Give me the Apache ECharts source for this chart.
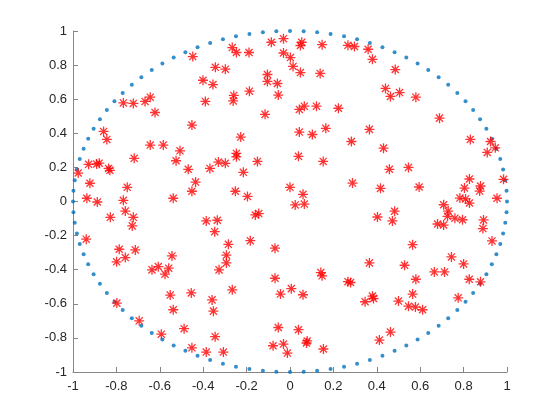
<!DOCTYPE html>
<html>
<head>
<meta charset="utf-8">
<script src="https://cdn.jsdelivr.net/npm/echarts@6/dist/echarts.min.js"></script>
<style>
  html, body { margin: 0; padding: 0; background: #fff; }
  #chart { width: 560px; height: 420px; }
</style>
</head>
<body>
<div id="chart"></div>
<script>
// unit circle markers (100 points, 3.6 degree steps)
const circlePoints = [
  [1, 0], [0.998, 0.063], [0.992, 0.125], [0.982, 0.187], [0.969, 0.249], [0.951, 0.309],
  [0.930, 0.368], [0.905, 0.426], [0.876, 0.482], [0.844, 0.536], [0.809, 0.588], [0.771, 0.637],
  [0.729, 0.685], [0.685, 0.729], [0.637, 0.771], [0.588, 0.809], [0.536, 0.844], [0.482, 0.876],
  [0.426, 0.905], [0.368, 0.930], [0.309, 0.951], [0.249, 0.969], [0.187, 0.982], [0.125, 0.992],
  [0.063, 0.998], [0, 1],
  [-0.063, 0.998], [-0.125, 0.992], [-0.187, 0.982], [-0.249, 0.969], [-0.309, 0.951], [-0.368, 0.930],
  [-0.426, 0.905], [-0.482, 0.876], [-0.536, 0.844], [-0.588, 0.809], [-0.637, 0.771], [-0.685, 0.729],
  [-0.729, 0.685], [-0.771, 0.637], [-0.809, 0.588], [-0.844, 0.536], [-0.876, 0.482], [-0.905, 0.426],
  [-0.930, 0.368], [-0.951, 0.309], [-0.969, 0.249], [-0.982, 0.187], [-0.992, 0.125], [-0.998, 0.063],
  [-1, 0],
  [-0.998, -0.063], [-0.992, -0.125], [-0.982, -0.187], [-0.969, -0.249], [-0.951, -0.309], [-0.930, -0.368],
  [-0.905, -0.426], [-0.876, -0.482], [-0.844, -0.536], [-0.809, -0.588], [-0.771, -0.637], [-0.729, -0.685],
  [-0.685, -0.729], [-0.637, -0.771], [-0.588, -0.809], [-0.536, -0.844], [-0.482, -0.876], [-0.426, -0.905],
  [-0.368, -0.930], [-0.309, -0.951], [-0.249, -0.969], [-0.187, -0.982], [-0.125, -0.992], [-0.063, -0.998],
  [0, -1],
  [0.063, -0.998], [0.125, -0.992], [0.187, -0.982], [0.249, -0.969], [0.309, -0.951], [0.368, -0.930],
  [0.426, -0.905], [0.482, -0.876], [0.536, -0.844], [0.588, -0.809], [0.637, -0.771], [0.685, -0.729],
  [0.729, -0.685], [0.771, -0.637], [0.809, -0.588], [0.844, -0.536], [0.876, -0.482], [0.905, -0.426],
  [0.930, -0.368], [0.951, -0.309], [0.969, -0.249], [0.982, -0.187], [0.992, -0.125], [0.998, -0.063]
]

// random points inside the circle
const starPoints = [
  [-0.448, 0.850], [-0.344, 0.787], [-0.401, 0.711], [-0.355, 0.686], [-0.768, 0.578], [-0.722, 0.575],
  [-0.668, 0.587], [-0.644, 0.612], [-0.622, 0.522], [-0.390, 0.587], [-0.452, 0.448], [-0.859, 0.411],
  [-0.844, 0.364],
  [-0.266, 0.903], [-0.247, 0.874], [-0.189, 0.874], [-0.086, 0.934], [-0.030, 0.955], [0.054, 0.934],
  [0.048, 0.915], [0.148, 0.920], [0.267, 0.916], [0.297, 0.909], [-0.030, 0.871], [0.002, 0.844],
  [0.014, 0.792], [0.048, 0.756], [0.139, 0.751], [-0.298, 0.776], [-0.104, 0.745], [-0.104, 0.704],
  [-0.058, 0.692], [-0.187, 0.647], [-0.259, 0.622], [-0.262, 0.590], [-0.054, 0.624], [0.043, 0.540],
  [0.066, 0.559], [0.122, 0.559], [0.223, 0.547], [-0.115, 0.511], [-0.227, 0.378], [0.043, 0.407],
  [0.103, 0.393], [0.165, 0.429], [0.283, 0.352],
  [0.360, 0.893], [0.380, 0.834], [0.485, 0.774], [0.440, 0.663], [0.463, 0.616], [0.505, 0.639],
  [0.580, 0.612], [0.689, 0.489], [0.366, 0.423], [0.831, 0.364], [0.924, 0.352],
  [-0.644, 0.331], [-0.584, 0.331], [-0.507, 0.297], [-0.718, 0.253], [-0.525, 0.239], [-0.928, 0.218],
  [-0.891, 0.220], [-0.879, 0.225], [-0.836, 0.194], [-0.830, 0.183], [-0.976, 0.167], [-0.469, 0.189],
  [-0.369, 0.194], [-0.922, 0.107], [-0.750, 0.083], [-0.435, 0.114], [-0.452, 0.060], [-0.936, 0.019],
  [-0.888, -0.003], [-0.768, 0.007], [-0.538, 0.019], [-0.759, -0.056], [-0.722, -0.093], [-0.828, -0.093],
  [-0.727, -0.143], [-0.386, -0.114], [-0.347, -0.177], [-0.939, -0.221], [-0.787, -0.280], [-0.713, -0.284],
  [-0.759, -0.329], [-0.544, -0.319],
  [-0.247, 0.282], [-0.247, 0.262], [-0.330, 0.231], [-0.298, 0.224], [-0.150, 0.235], [0.039, 0.265],
  [0.153, 0.235], [-0.215, 0.171], [0.288, 0.108], [0.000, 0.083], [0.060, 0.042], [-0.252, 0.060],
  [-0.196, 0.030], [0.024, -0.020], [0.066, -0.015], [-0.160, -0.079], [-0.144, -0.071], [-0.335, -0.110],
  [-0.284, -0.251], [-0.183, -0.230], [-0.069, -0.274], [-0.293, -0.315],
  [0.431, 0.313], [0.946, 0.315], [0.909, 0.288], [0.458, 0.189], [0.546, 0.200], [0.417, 0.077],
  [0.595, 0.085], [0.827, 0.132], [0.804, 0.079], [0.878, 0.091], [0.874, 0.061], [0.984, 0.130],
  [0.954, 0.019], [0.783, 0.020], [0.809, 0.015], [0.827, -0.009], [0.708, -0.019], [0.729, -0.056],
  [0.726, -0.087], [0.760, -0.098], [0.795, -0.107], [0.680, -0.132], [0.708, -0.138], [0.482, -0.057],
  [0.403, -0.091], [0.472, -0.114], [0.892, -0.108], [0.889, -0.159], [0.931, -0.231], [0.565, -0.253],
  [0.744, -0.325],
  [-0.799, -0.354], [-0.636, -0.401], [-0.607, -0.382], [-0.559, -0.391], [-0.576, -0.426], [-0.552, -0.549],
  [-0.455, -0.536], [-0.359, -0.577], [-0.353, -0.643], [-0.538, -0.635], [-0.798, -0.596], [-0.695, -0.700],
  [-0.488, -0.746], [-0.593, -0.778], [-0.345, -0.793], [-0.452, -0.858], [-0.386, -0.883],
  [-0.293, -0.360], [-0.327, -0.401], [-0.266, -0.518], [-0.307, -0.883], [-0.069, -0.450], [-0.044, -0.543],
  [0.006, -0.511], [0.060, -0.547], [0.142, -0.417], [0.148, -0.436], [0.267, -0.470], [0.279, -0.475],
  [-0.054, -0.739], [0.039, -0.752], [-0.078, -0.846], [-0.030, -0.836], [-0.012, -0.889], [0.079, -0.818],
  [0.076, -0.830], [0.154, -0.865],
  [0.366, -0.360], [0.528, -0.374], [0.800, -0.366], [0.665, -0.413], [0.712, -0.413], [0.580, -0.456],
  [0.826, -0.456], [0.878, -0.471], [0.346, -0.588], [0.380, -0.555], [0.385, -0.569], [0.500, -0.584],
  [0.565, -0.543], [0.546, -0.614], [0.578, -0.619], [0.611, -0.635], [0.775, -0.565], [0.463, -0.766],
  [0.412, -0.813]
]

const chart = echarts.init(document.getElementById('chart'), null, { renderer: 'canvas' })

const axisCommon = {
  type: 'value',
  min: -1,
  max: 1,
  interval: 0.2,
  axisLine: { show: true, onZero: false, lineStyle: { color: '#868686', width: 1 } },
  axisTick: { show: true, inside: true, length: 5, lineStyle: { color: '#868686' } },
  axisLabel: {
    color: '#262626',
    fontSize: 13,
    fontFamily: 'Liberation Sans, Arial, sans-serif'
  },
  splitLine: { show: false }
}

// asterisk marker like matlab '*'
const asterisk = 'path://M0,-10L0,10M-10,0L10,0M-7.1,-7.1L7.1,7.1M-7.1,7.1L7.1,-7.1'

chart.setOption({
  animation: false,
  backgroundColor: '#fff',
  grid: { left: 73, right: 53, top: 31, bottom: 48 },
  xAxis: Object.assign({}, axisCommon, { axisLabel: Object.assign({}, axisCommon.axisLabel, { margin: 8 }) }),
  yAxis: Object.assign({}, axisCommon, { axisLabel: Object.assign({}, axisCommon.axisLabel, { margin: 6 }) }),
  series: [
    {
      name: 'circle',
      type: 'scatter',
      data: circlePoints,
      symbol: 'circle',
      symbolSize: 4,
      itemStyle: { color: '#0072BD' }
    },
    {
      name: 'points',
      type: 'scatter',
      data: starPoints,
      symbol: asterisk,
      symbolSize: 10,
      itemStyle: { color: 'rgba(0,0,0,0)', borderColor: '#ff0000', borderWidth: 1.3 }
    }
  ]
})
</script>
</body>
</html>
